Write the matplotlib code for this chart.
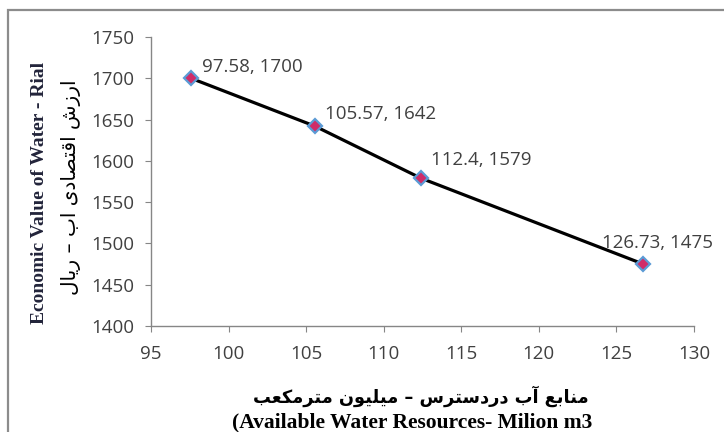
"""Economic value of water vs. available water resources (recreated chart)."""

import matplotlib
matplotlib.use("Agg")
import matplotlib.pyplot as plt
from matplotlib.patches import Rectangle

# Data
water_resources = [97.58, 105.57, 112.4, 126.73]   # million m3
water_value = [1700, 1642, 1579, 1475]              # Rial
point_labels = ["97.58, 1700", "105.57, 1642", "112.4, 1579", "126.73, 1475"]

x_ticks = [95, 100, 105, 110, 115, 120, 125, 130]
y_ticks = [1400, 1450, 1500, 1550, 1600, 1650, 1700, 1750]

XLABEL_FA = "منابع آب دردسترس – میلیون مترمکعب"
XLABEL_EN = "(Available Water Resources- Milion m3"
YLABEL_FA = "ارزش اقتصادی اب – ریال"
YLABEL_EN = "Economic Value of Water - Rial"

# Label offsets in pixels (placement only)
LABEL_OFFSETS = [(11, 11), (10, 12), (10, 18), (14, 21)]
LABEL_HA = ["left", "left", "left", "center"]

# Arabic presentation forms: isolated, final, initial, medial
FORMS = {
    "ا": ("\uFE8D", "\uFE8E", None, None),
    "آ": ("\uFE81", "\uFE82", None, None),
    "ب": ("\uFE8F", "\uFE90", "\uFE91", "\uFE92"),
    "ت": ("\uFE95", "\uFE96", "\uFE97", "\uFE98"),
    "د": ("\uFEA9", "\uFEAA", None, None),
    "ر": ("\uFEAD", "\uFEAE", None, None),
    "ز": ("\uFEAF", "\uFEB0", None, None),
    "س": ("\uFEB1", "\uFEB2", "\uFEB3", "\uFEB4"),
    "ش": ("\uFEB5", "\uFEB6", "\uFEB7", "\uFEB8"),
    "ص": ("\uFEB9", "\uFEBA", "\uFEBB", "\uFEBC"),
    "ع": ("\uFEC9", "\uFECA", "\uFECB", "\uFECC"),
    "ق": ("\uFED5", "\uFED6", "\uFED7", "\uFED8"),
    "ل": ("\uFEDD", "\uFEDE", "\uFEDF", "\uFEE0"),
    "م": ("\uFEE1", "\uFEE2", "\uFEE3", "\uFEE4"),
    "ن": ("\uFEE5", "\uFEE6", "\uFEE7", "\uFEE8"),
    "و": ("\uFEED", "\uFEEE", None, None),
    "ی": ("\uFBFC", "\uFBFD", "\uFBFE", "\uFBFF"),
    "ک": ("\uFB8E", "\uFB8F", "\uFB90", "\uFB91"),
}


def shape(text):
    """Very small Persian shaper: pick joining forms, then reverse to visual order."""
    out = []
    for i, ch in enumerate(text):
        if ch not in FORMS:
            out.append(ch)
            continue
        forms = FORMS[ch]
        prev = text[i - 1] if i > 0 else ""
        nxt = text[i + 1] if i < len(text) - 1 else ""
        join_prev = prev in FORMS and FORMS[prev][2] is not None
        join_next = forms[2] is not None and nxt in FORMS
        if join_prev and join_next:
            out.append(forms[3])
        elif join_prev:
            out.append(forms[1])
        elif join_next:
            out.append(forms[2])
        else:
            out.append(forms[0])
    return "".join(reversed(out))


W, H = 724, 432
fig = plt.figure(figsize=(W / 100, H / 100), dpi=100)
ax = fig.add_axes([151 / W, 1 - 326 / H, (694 - 151) / W, (326 - 37) / H])

ax.plot(water_resources, water_value, color="black", linewidth=2.3,
        marker="D", markersize=7, markerfacecolor="#d02c68",
        markeredgecolor="#5b9bd5", markeredgewidth=1.6, zorder=3)

for x, y, lab, off, ha in zip(water_resources, water_value, point_labels,
                              LABEL_OFFSETS, LABEL_HA):
    ax.annotate(lab, (x, y), xytext=off, textcoords="offset pixels",
                ha=ha, va="center", fontsize=13.5, color="#404040",
                family="Open Sans", annotation_clip=False)

ax.set_xlim(95, 130)
ax.set_ylim(1400, 1750)
ax.set_xticks(x_ticks)
ax.set_yticks(y_ticks)
for lab in ax.get_xticklabels() + ax.get_yticklabels():
    lab.set_family("Open Sans")
    lab.set_fontsize(13.5)
    lab.set_color("#404040")

for side in ("top", "right"):
    ax.spines[side].set_visible(False)
for side in ("left", "bottom"):
    ax.spines[side].set_color("#868686")
    ax.spines[side].set_linewidth(1.0)
ax.tick_params(direction="out", length=4, color="#868686")
ax.tick_params(axis="x", pad=10)
ax.tick_params(axis="y", pad=8)

# Axis titles (Persian + English)
fig.text(421 / W, 1 - 396 / H, shape(XLABEL_FA), ha="center", va="center",
         fontsize=12.8, fontweight="bold", family="DejaVu Sans", color="black")
fig.text(412 / W, 1 - 422 / H, XLABEL_EN, ha="center", va="center",
         fontsize=15.5, fontweight="bold", family="Liberation Serif", color="black")
fig.text(40 / W, 1 - 193 / H, YLABEL_EN, ha="center", va="center", rotation=90,
         fontsize=14, fontweight="bold", family="Liberation Serif", color="#22243a")
fig.text(71 / W, 1 - 187 / H, shape(YLABEL_FA), ha="center", va="center", rotation=90,
         fontsize=14.5, family="DejaVu Sans", color="black")

# Outer chart border, as in the original
fig.patches.append(Rectangle((8 / W, -0.2), 1.0, 1.2 - 10 / H, transform=fig.transFigure,
                             fill=False, edgecolor="#8c8c8c", linewidth=1.6))

fig.savefig("out.png", dpi=100)
